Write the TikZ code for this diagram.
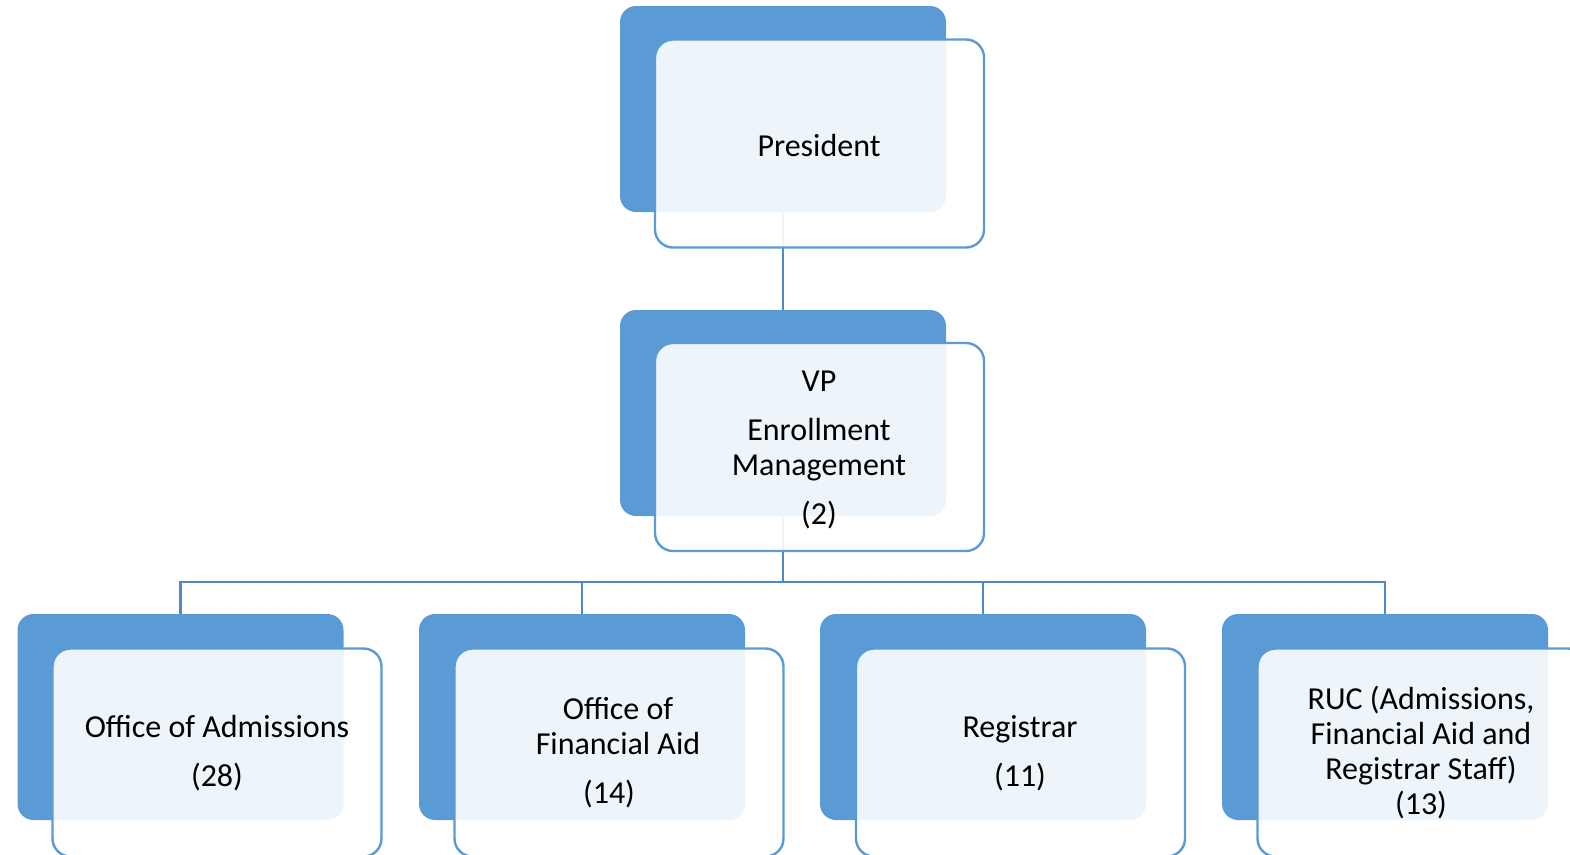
\documentclass[tikz,border=0pt]{standalone}
\usepackage{fontspec}
\setmainfont{Carlito}
\pgfdeclarelayer{background}
\pgfsetlayers{background,main}
\definecolor{boxblue}{HTML}{5B9BD5}
\definecolor{linkblue}{HTML}{4F89C8}
\tikzset{
  back/.style={fill=boxblue, draw=none, rounded corners=16pt,
    minimum width=326pt, minimum height=206pt, inner sep=0pt},
  front/.style={draw=boxblue, line width=2.4pt, fill=white, fill opacity=0.9,
    text opacity=1, rounded corners=18pt, minimum width=329pt,
    minimum height=208pt, inner sep=0pt, align=center,
    font=\fontsize{32pt}{35pt}\selectfont},
  label/.style={align=center, inner sep=0pt,
    font=\fontsize{32pt}{35pt}\selectfont}
}
\tikzset{link/.style={draw=linkblue, line width=2.5pt, line join=miter}}
\begin{document}
\begin{tikzpicture}[x=1pt,y=-1pt]
\useasboundingbox (0,0) rectangle (1570,854);
\clip (0,0) rectangle (1570,854);
% top levels
\node[back] (presB) at (783,109) {};
\node[front] (pres) at (819.5,143.5) {};
\node[label] (presT) at (819,146) {President};
\node[back] (vpB) at (783,413) {};
\node[front] (vp) at (819.5,447) {};
\node[label] (vpT) at (819,450) {VP\\[14pt]Enrollment\\Management\\[14pt](2)};
% departments
\node[back] (admB) at (180.5,717) {};
\node[front] (adm) at (217,752.5) {};
\node[label] (admT) at (217,753) {Office of Admissions\\[14pt](28)};
\node[back] (finB) at (582,717) {};
\node[front] (fin) at (619,752.5) {};
\node[label] (finT) at (618,753) {Office of\\Financial Aid\\[14pt](14)\hspace*{18pt}};
\node[back] (regB) at (983,717) {};
\node[front] (reg) at (1020.5,752.5) {};
\node[label] (regT) at (1020,753) {Registrar\\[14pt](11)};
\node[back] (rucB) at (1385,717) {};
\node[front] (ruc) at (1422,752.5) {};
\node[label] (rucT) at (1421,753) {RUC (Admissions,\\Financial Aid and\\Registrar Staff)\\(13)};
% connectors behind the boxes
\begin{pgfonlayer}{background}
  \coordinate (bus) at (783,582);
  \draw[link] (presB.south) -- (vpB.north);
  \draw[link] (vpB.south) -- (bus);
  \draw[link] (bus) -| (admB.north);
  \draw[link] (bus) -| (finB.north);
  \draw[link] (bus) -| (regB.north);
  \draw[link] (bus) -| (rucB.north);
\end{pgfonlayer}
\end{tikzpicture}
\end{document}
